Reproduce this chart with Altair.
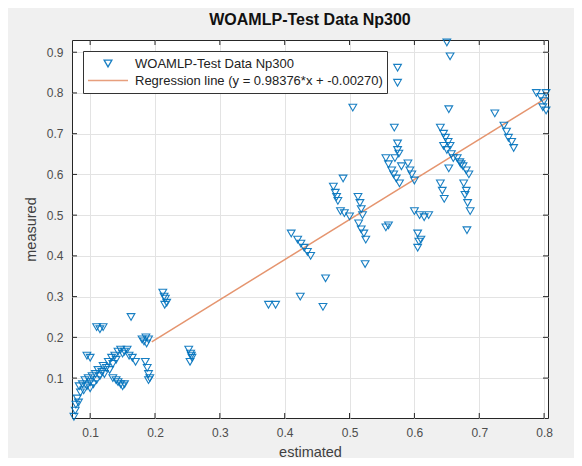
import altair as alt
import pandas as pd

# ---- data ----
x_vals = [
    0.075, 0.077, 0.078, 0.080, 0.082, 0.085, 0.083, 0.088, 0.090, 0.092, 0.095, 0.097, 0.100, 0.100,
    0.103, 0.105, 0.108, 0.110, 0.112, 0.115, 0.118, 0.120, 0.122, 0.125, 0.128, 0.130, 0.133, 0.135,
    0.138, 0.140, 0.143, 0.147, 0.150, 0.153, 0.157, 0.160, 0.165, 0.170, 0.140, 0.143, 0.147, 0.150,
    0.153, 0.135, 0.095, 0.100, 0.110, 0.115, 0.120, 0.163, 0.180, 0.183, 0.186, 0.190, 0.187, 0.185,
    0.188, 0.190, 0.192, 0.190,
    0.212, 0.214, 0.216, 0.218, 0.215,
    0.252, 0.255, 0.257, 0.254, 0.256,
    0.375, 0.386, 0.424, 0.459, 0.463, 0.410, 0.420, 0.425, 0.430, 0.435, 0.440, 0.505,
    0.490, 0.475, 0.478, 0.480, 0.482, 0.486, 0.492, 0.500, 0.513, 0.516, 0.518, 0.520, 0.514, 0.518,
    0.522, 0.525, 0.524,
    0.556, 0.560, 0.556, 0.560, 0.565, 0.568, 0.572, 0.577, 0.574, 0.569, 0.574, 0.576, 0.574, 0.574,
    0.590, 0.593, 0.596, 0.600, 0.570, 0.580,
    0.600, 0.608, 0.615, 0.622, 0.605, 0.607, 0.605, 0.610,
    0.650, 0.655, 0.653, 0.640, 0.645, 0.648, 0.652, 0.655, 0.650, 0.657, 0.660, 0.645, 0.653, 0.666,
    0.670, 0.675, 0.680, 0.684, 0.672, 0.640, 0.643, 0.646, 0.676, 0.680, 0.678, 0.682, 0.686, 0.681,
    0.724, 0.738, 0.742, 0.745, 0.750, 0.753, 0.788, 0.795, 0.800, 0.803, 0.798, 0.803,
]
y_vals = [
    0.005, 0.020, 0.035, 0.050, 0.040, 0.065, 0.080, 0.085, 0.070, 0.095, 0.080, 0.100, 0.090, 0.075,
    0.105, 0.085, 0.110, 0.095, 0.120, 0.105, 0.115, 0.130, 0.110, 0.125, 0.140, 0.120, 0.150, 0.135,
    0.155, 0.145, 0.165, 0.170, 0.160, 0.165, 0.170, 0.155, 0.150, 0.140, 0.095, 0.090, 0.085, 0.080,
    0.085, 0.100, 0.155, 0.150, 0.225, 0.220, 0.225, 0.250, 0.195, 0.190, 0.200, 0.195, 0.185, 0.140,
    0.125, 0.110, 0.100, 0.095,
    0.310, 0.300, 0.295, 0.285, 0.280,
    0.170, 0.160, 0.150, 0.140, 0.155,
    0.280, 0.280, 0.300, 0.275, 0.345, 0.455, 0.440, 0.430, 0.420, 0.410, 0.400, 0.764,
    0.590, 0.570, 0.555, 0.545, 0.535, 0.510, 0.505, 0.497, 0.545, 0.530, 0.515, 0.500, 0.480, 0.465,
    0.455, 0.440, 0.380,
    0.470, 0.475, 0.640, 0.625, 0.610, 0.600, 0.590, 0.578, 0.660, 0.715, 0.676, 0.651, 0.862, 0.825,
    0.627, 0.610, 0.600, 0.585, 0.640, 0.620,
    0.510, 0.500, 0.495, 0.500, 0.455, 0.435, 0.420, 0.440,
    0.924, 0.890, 0.760, 0.715, 0.700, 0.690, 0.680, 0.670, 0.660, 0.650, 0.640, 0.670, 0.615, 0.640,
    0.630, 0.620, 0.610, 0.600, 0.625, 0.578, 0.560, 0.540, 0.578, 0.560, 0.550, 0.530, 0.510, 0.463,
    0.750, 0.720, 0.705, 0.690, 0.680, 0.665, 0.800, 0.790, 0.780, 0.800, 0.765, 0.757,
]
slope = 0.98376
intercept = -0.00270
reg_x = [0.195, 0.805]

x_ticks = [0.1, 0.2, 0.3, 0.4, 0.5, 0.6, 0.7, 0.8]
y_ticks = [0.1, 0.2, 0.3, 0.4, 0.5, 0.6, 0.7, 0.8, 0.9]
x_domain = [0.072, 0.806]
y_domain = [0.002, 0.930]

pt_label = "WOAMLP-Test Data Np300"
line_label = "Regression line (y = 0.98376*x + -0.00270)"

# ---- tables ----
pts = pd.DataFrame({"estimated": x_vals, "measured": y_vals, "series": pt_label})
reg = pd.DataFrame({"estimated": reg_x,
                    "measured": [slope * v + intercept for v in reg_x],
                    "series": line_label})
xt = pd.DataFrame({"t": x_ticks})
yt = pd.DataFrame({"t": y_ticks})

W, H = 476, 378
FONT = "Liberation Sans"
BLUE = "#0072BD"
ORANGE = "#E5956F"

xscale = alt.Scale(domain=x_domain, nice=False, zero=False)
yscale = alt.Scale(domain=y_domain, nice=False, zero=False)
cscale = alt.Scale(domain=[pt_label, line_label], range=[BLUE, ORANGE])

xaxis = alt.Axis(values=x_ticks, format=".1f", grid=True, gridColor="#e3e3e3", ticks=False,
                 domain=False, labelFont=FONT, labelFontSize=12, labelColor="#4d4d4d",
                 labelPadding=9, title="estimated", titleFont=FONT, titleFontSize=14.5,
                 titleFontWeight="normal", titleColor="#404040", titlePadding=7)
yaxis = alt.Axis(values=y_ticks, format=".1f", grid=True, gridColor="#e3e3e3", ticks=False,
                 domain=False, labelFont=FONT, labelFontSize=12, labelColor="#4d4d4d",
                 labelPadding=9, title="measured", titleFont=FONT, titleFontSize=14.5,
                 titleFontWeight="normal", titleColor="#404040", titlePadding=8)

legend = alt.Legend(title=None, orient="top-left", offset=11, fillColor="white",
                    strokeColor="#333333", padding=4, labelFont=FONT, labelFontSize=13,
                    labelColor="#222222", labelLimit=400, rowPadding=0, clipHeight=17,
                    labelOffset=6, symbolStrokeWidth=1.3)

line = alt.Chart(reg).mark_line(strokeWidth=1.5, clip=True).encode(
    x=alt.X("estimated:Q", scale=xscale, axis=xaxis),
    y=alt.Y("measured:Q", scale=yscale, axis=yaxis),
    color=alt.Color("series:N", scale=cscale, legend=legend),
)

points = alt.Chart(pts).mark_point(filled=False, strokeWidth=1.1, opacity=0.9).encode(
    x=alt.X("estimated:Q", scale=xscale),
    y=alt.Y("measured:Q", scale=yscale),
    color=alt.Color("series:N", scale=cscale, legend=legend),
    shape=alt.Shape("series:N", scale=alt.Scale(domain=[pt_label, line_label],
                                                range=["triangle-down", "stroke"]), legend=legend),
    size=alt.Size("series:N", scale=alt.Scale(domain=[pt_label, line_label], range=[60, 1600]),
                  legend=legend),
)

tick_col = "#262626"
xt_bot = alt.Chart(xt).mark_rule(color=tick_col).encode(
    x=alt.X("t:Q", scale=xscale), y=alt.value(H), y2=alt.value(H - 5))
xt_top = alt.Chart(xt).mark_rule(color=tick_col).encode(
    x=alt.X("t:Q", scale=xscale), y=alt.value(0), y2=alt.value(5))
yt_left = alt.Chart(yt).mark_rule(color=tick_col).encode(
    y=alt.Y("t:Q", scale=yscale), x=alt.value(0), x2=alt.value(5))
yt_right = alt.Chart(yt).mark_rule(color=tick_col).encode(
    y=alt.Y("t:Q", scale=yscale), x=alt.value(W), x2=alt.value(W - 5))

chart = alt.layer(line, points, xt_bot, xt_top, yt_left, yt_right).properties(
    width=W, height=H,
    title=alt.TitleParams("WOAMLP-Test Data Np300", font=FONT, fontSize=16, fontWeight="bold",
                          color="#111111", anchor="middle", offset=9),
    background="#f0f0f0",
    autosize=alt.AutoSizeParams(type="none"),
    padding={"left": 64, "top": 32, "right": 26, "bottom": 40},
).configure_view(stroke="#262626", strokeWidth=1, fill="white")

chart.save("out.html", embed_options={"renderer": "svg", "actions": False})
